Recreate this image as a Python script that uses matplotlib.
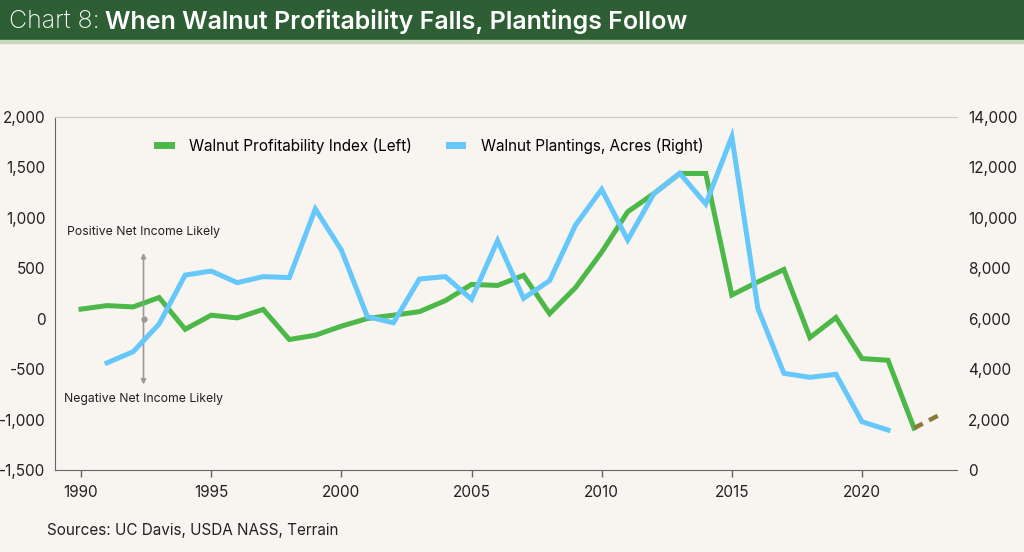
import matplotlib.pyplot as plt
import matplotlib.ticker as mticker
import numpy as np

plt.rcParams['font.family'] = ['Inter', 'DejaVu Sans']

# profitability index, left axis
years_idx = list(range(1990, 2023))
profit_idx = [95, 130, 117, 210, -105, 35, 8, 92, -206, -164, -74, 2, 35, 70,
              180, 340, 330, 430, 50, 310, 660, 1060, 1240, 1440, 1440, 235,
              365, 488, -187, 12, -395, -412, -1085]
# projection 2022 -> 2023
years_proj = [2022, 2023]
profit_proj = [-1085, -950]

# plantings, right axis
years_plant = list(range(1991, 2022))
plantings = [4250, 4690, 5790, 7730, 7890, 7430, 7670, 7630, 10350, 8725,
             6080, 5840, 7575, 7670, 6770, 9095, 6810, 7510, 9720, 11130,
             9120, 10950, 11770, 10550, 13220, 6410, 3835, 3675, 3795, 1915,
             1585]

bg = '#f8f4f0'
green = '#4bb848'
blue = '#66c7fb'
hdr = '#2d5e34'

fig = plt.figure(figsize=(10.24, 5.52), dpi=100, facecolor=bg)

# header bar
fig.patches.append(plt.Rectangle((0, 1 - 40 / 552), 1, 40 / 552, transform=fig.transFigure,
                                 color=hdr, zorder=0))
fig.patches.append(plt.Rectangle((0, 1 - 43 / 552), 1, 3 / 552, transform=fig.transFigure,
                                 color='#c9d6c0', zorder=0))
t1 = fig.text(9 / 1024, 1 - 21 / 552, 'Chart 8: ', color='white', fontsize=18,
              fontweight='light', va='center', ha='left')
fig.canvas.draw()
bb = t1.get_window_extent()
fig.text(bb.x1 / 1024 - 0.002, 1 - 21 / 552, 'When Walnut Profitability Falls, Plantings Follow',
         color='white', fontsize=18, fontweight='semibold', va='center', ha='left')

ax = fig.add_axes([55 / 1024, 1 - 470 / 552, 902 / 1024, 353 / 552])
ax.set_facecolor(bg)
ax2 = ax.twinx()

l1, = ax.plot(years_idx, profit_idx, color=green, lw=3.6, solid_joinstyle='miter',
              label='Walnut Profitability Index (Left)', zorder=3)
ax.plot(years_proj, profit_proj, color='#8c7a3c', lw=3.2, ls=(0, (2.2, 1.6)), zorder=3)
l2, = ax2.plot(years_plant, plantings, color=blue, lw=3.6, solid_joinstyle='miter',
               label='Walnut Plantings, Acres (Right)', zorder=3)

ax.set_xlim(1989, 2023.65)
ax.set_ylim(-1500, 2000)
ax2.set_ylim(0, 14000)
ax.set_yticks(np.arange(-1500, 2001, 500))
ax2.set_yticks(np.arange(0, 14001, 2000))
ax.set_xticks(np.arange(1990, 2021, 5))
fmt = mticker.FuncFormatter(lambda v, p: f'{v:,.0f}')
ax.yaxis.set_major_formatter(fmt)
ax2.yaxis.set_major_formatter(fmt)

for a in (ax, ax2):
    for s in a.spines.values():
        s.set_visible(False)
ax.spines['left'].set_visible(True)
ax.spines['left'].set_color('#666666')
ax.spines['bottom'].set_visible(True)
ax.spines['bottom'].set_color('#666666')
ax.spines['top'].set_visible(True)
ax.spines['top'].set_color('#cfcac5')

ax.tick_params(axis='y', length=0, pad=7, labelsize=11, labelcolor='#222222')
ax2.tick_params(axis='y', length=0, pad=8, labelsize=11, labelcolor='#222222')
ax.tick_params(axis='x', length=5, width=1, color='#666666', pad=6, labelsize=11,
               labelcolor='#222222')

# annotation arrows
ax.plot([1992.4], [0], 'o', color='#999999', ms=3.5, zorder=2)
ax.annotate('', xy=(1992.4, 680), xytext=(1992.4, 0),
            arrowprops=dict(arrowstyle='-|>', color='#999999', lw=1.2, mutation_scale=7))
ax.annotate('', xy=(1992.4, -680), xytext=(1992.4, 0),
            arrowprops=dict(arrowstyle='-|>', color='#999999', lw=1.2, mutation_scale=7))
ax.text(1992.4, 855, 'Positive Net Income Likely', ha='center', va='center', fontsize=8.8,
        color='#222222')
ax.text(1992.4, -795, 'Negative Net Income Likely', ha='center', va='center', fontsize=8.8,
        color='#222222')

leg = ax2.legend(handles=[l1, l2], loc='upper center', bbox_to_anchor=(0.416, 0.98), ncol=2,
                 frameon=False, fontsize=11, handlelength=0.9, handletextpad=1.2,
                 columnspacing=2.4)
for h in leg.legend_handles:
    h.set_linewidth(5)

fig.text(47 / 1024, 1 - 530 / 552, 'Sources: UC Davis, USDA NASS, Terrain', fontsize=11,
         color='#222222', va='center', ha='left')

fig.savefig('out.png', dpi=100, facecolor=bg)
